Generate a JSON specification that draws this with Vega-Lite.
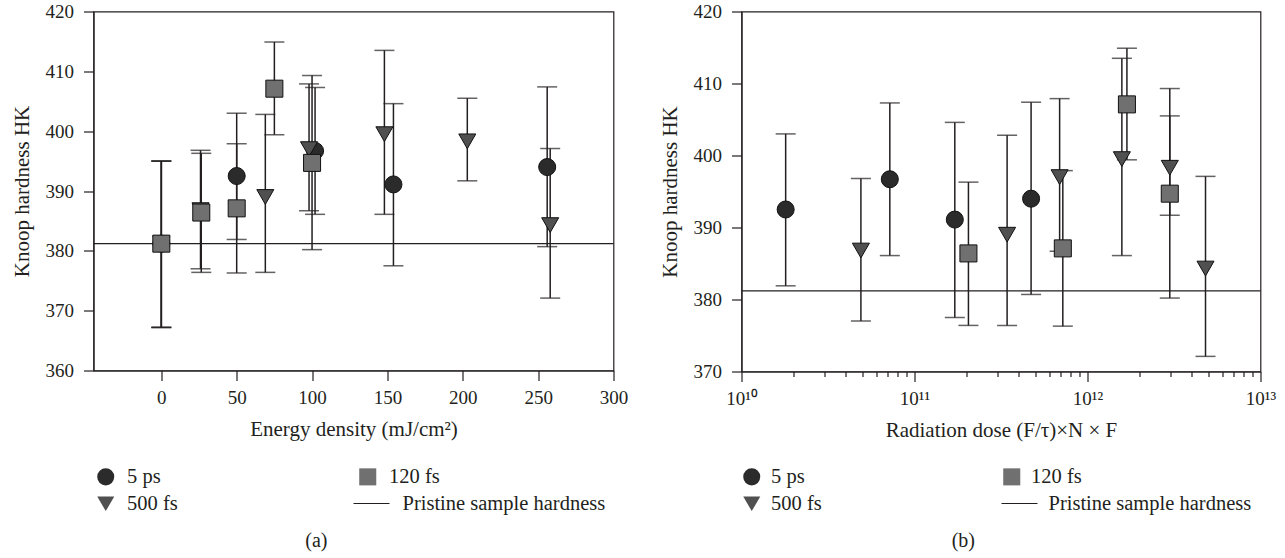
{
  "$schema": "https://vega.github.io/schema/vega-lite/v6.json",
  "background": "white",
  "padding": {"left": 9.5, "top": 1.5, "right": 5, "bottom": 0},
  "spacing": 29,
  "resolve": {
    "scale": {"shape": "independent", "fill": "independent", "stroke": "independent"},
    "legend": {"shape": "independent", "fill": "independent", "stroke": "independent"}
  },
  "config": {
    "font": "Liberation Serif",
    "view": {"stroke": "#231f20", "strokeWidth": 1.2},
    "axis": {
      "grid": false,
      "labelFlush": false,
      "domainColor": "#231f20",
      "domainWidth": 1.2,
      "tickColor": "#231f20",
      "tickWidth": 1.2,
      "tickSize": 10,
      "labelFont": "Liberation Serif",
      "labelFontSize": 19,
      "labelColor": "#231f20",
      "labelPadding": 8,
      "titleFont": "Liberation Serif",
      "titleFontSize": 21,
      "titleFontWeight": "normal",
      "titleColor": "#231f20"
    },
    "legend": {
      "labelFont": "Liberation Serif",
      "labelFontSize": 20.5,
      "labelColor": "#231f20",
      "labelLimit": 0,
      "padding": 0
    },
    "title": {"font": "Liberation Serif", "fontSize": 20, "fontWeight": "normal", "color": "#231f20"}
  },
  "datasets": {
    "pts": [
      {"series": "5 ps", "energy": 0, "dose": null, "hk": 381.2, "lo": 367.2, "hi": 395.0},
      {"series": "5 ps", "energy": 50, "dose": 1.8e10, "hk": 392.5, "lo": 381.9, "hi": 403.0},
      {"series": "5 ps", "energy": 102, "dose": 7.2e10, "hk": 396.7, "lo": 386.1, "hi": 407.3},
      {"series": "5 ps", "energy": 154, "dose": 1.71e11, "hk": 391.1, "lo": 377.5, "hi": 404.6},
      {"series": "5 ps", "energy": 256, "dose": 4.72e11, "hk": 394.0, "lo": 380.7, "hi": 407.4},
      {"series": "500 fs", "energy": 0, "dose": null, "hk": 381.2, "lo": 367.2, "hi": 395.0},
      {"series": "500 fs", "energy": 26, "dose": 4.9e10, "hk": 386.8, "lo": 377.0, "hi": 396.8},
      {"series": "500 fs", "energy": 69, "dose": 3.43e11, "hk": 389.0, "lo": 376.4, "hi": 402.8},
      {"series": "500 fs", "energy": 98, "dose": 6.9e11, "hk": 397.0, "lo": 386.7, "hi": 407.9},
      {"series": "500 fs", "energy": 148, "dose": 1.58e12, "hk": 399.5, "lo": 386.1, "hi": 413.5},
      {"series": "500 fs", "energy": 203, "dose": 2.99e12, "hk": 398.3, "lo": 391.7, "hi": 405.5},
      {"series": "500 fs", "energy": 258, "dose": 4.81e12, "hk": 384.3, "lo": 372.1, "hi": 397.1},
      {"series": "120 fs", "energy": 0, "dose": null, "hk": 381.2, "lo": 367.2, "hi": 395.0},
      {"series": "120 fs", "energy": 26.5, "dose": 2.05e11, "hk": 386.4, "lo": 376.4, "hi": 396.3},
      {"series": "120 fs", "energy": 50, "dose": 7.2e11, "hk": 387.1, "lo": 376.3, "hi": 397.9},
      {"series": "120 fs", "energy": 75, "dose": 1.69e12, "hk": 407.1, "lo": 399.4, "hi": 414.9},
      {"series": "120 fs", "energy": 100, "dose": 2.99e12, "hk": 394.7, "lo": 380.2, "hi": 409.3}
    ],
    "base": [{"hk": 381.2, "label": "Pristine sample hardness"}]
  },
  "hconcat": [
    {
      "width": 520,
      "height": 359,
      "title": {"text": "(a)", "orient": "bottom", "anchor": "middle", "frame": "bounds", "offset": 16, "dx": -3},
      "layer": [
        {
          "data": {"name": "base"},
          "mark": {"type": "rule", "strokeWidth": 1.2},
          "encoding": {
            "y": {"field": "hk", "type": "quantitative", "scale": {"domain": [360, 420]}},
            "stroke": {"field": "label", "type": "nominal", "scale": {"range": ["#231f20"]},
              "legend": {"orient": "none", "legendX": 259, "legendY": 473, "title": null, "symbolType": "stroke", "symbolSize": 1296, "symbolStrokeWidth": 1.2, "labelOffset": 12}}
          }
        },
        {
          "data": {"name": "pts"},
          "layer": [
            {
              "mark": {"type": "rule", "color": "#231f20", "strokeWidth": 1.5},
              "encoding": {
                "x": {"field": "energy", "type": "quantitative"},
                "y": {"field": "lo", "type": "quantitative"},
                "y2": {"field": "hi"}
              }
            },
            {
              "mark": {"type": "tick", "orient": "horizontal", "color": "#231f20", "size": 20, "thickness": 1.5},
              "encoding": {
                "x": {"field": "energy", "type": "quantitative"},
                "y": {"field": "lo", "type": "quantitative"}
              }
            },
            {
              "mark": {"type": "tick", "orient": "horizontal", "color": "#231f20", "size": 20, "thickness": 1.5},
              "encoding": {
                "x": {"field": "energy", "type": "quantitative"},
                "y": {"field": "hi", "type": "quantitative"}
              }
            },
            {
              "mark": {"type": "point", "filled": true, "opacity": 1, "size": 290, "stroke": "#111", "strokeWidth": 1},
              "encoding": {
                "x": {"field": "energy", "type": "quantitative", "title": "Energy density (mJ/cm²)",
                  "scale": {"domain": [-45, 300], "nice": false, "zero": false},
                  "axis": {"values": [0, 50, 100, 150, 200, 250, 300], "titlePadding": 11}},
                "y": {"field": "hk", "type": "quantitative", "title": "Knoop hardness HK",
                  "axis": {"values": [360, 370, 380, 390, 400, 410, 420], "labelPadding": 10, "titlePadding": 13}},
                "shape": {"field": "series", "type": "nominal",
                  "scale": {"domain": ["5 ps", "500 fs", "120 fs"], "range": ["circle", "triangle-down", "square"]},
                  "legend": {"orient": "none", "legendX": 2, "legendY": 455, "columns": 2, "title": null, "gridAlign": "all", "columnPadding": 178, "rowPadding": 6, "labelOffset": 11, "symbolSize": 290, "symbolStrokeColor": "#111", "symbolStrokeWidth": 1}},
                "fill": {"field": "series", "type": "nominal",
                  "scale": {"domain": ["5 ps", "500 fs", "120 fs"], "range": ["#2b2b2b", "#505050", "#707070"]},
                  "legend": {"orient": "none", "legendX": 2, "legendY": 455, "columns": 2, "title": null, "gridAlign": "all", "columnPadding": 178, "rowPadding": 6, "labelOffset": 11, "symbolSize": 290, "symbolStrokeColor": "#111", "symbolStrokeWidth": 1}}
              }
            }
          ]
        }
      ]
    },
    {
      "width": 519,
      "height": 360,
      "title": {"text": "(b)", "orient": "bottom", "anchor": "middle", "frame": "bounds", "offset": 16, "dx": -4},
      "layer": [
        {
          "data": {"name": "base"},
          "mark": {"type": "rule", "strokeWidth": 1.2},
          "encoding": {
            "y": {"field": "hk", "type": "quantitative", "scale": {"domain": [370, 420]}},
            "stroke": {"field": "label", "type": "nominal", "scale": {"range": ["#231f20"]},
              "legend": {"orient": "none", "legendX": 259, "legendY": 473, "title": null, "symbolType": "stroke", "symbolSize": 1296, "symbolStrokeWidth": 1.2, "labelOffset": 10}}
          }
        },
        {
          "data": {"name": "pts"},
          "transform": [{"filter": "datum.dose != null"}],
          "layer": [
            {
              "mark": {"type": "rule", "color": "#231f20", "strokeWidth": 1.5},
              "encoding": {
                "x": {"field": "dose", "type": "quantitative"},
                "y": {"field": "lo", "type": "quantitative"},
                "y2": {"field": "hi"}
              }
            },
            {
              "mark": {"type": "tick", "orient": "horizontal", "color": "#231f20", "size": 20, "thickness": 1.5},
              "encoding": {
                "x": {"field": "dose", "type": "quantitative"},
                "y": {"field": "lo", "type": "quantitative"}
              }
            },
            {
              "mark": {"type": "tick", "orient": "horizontal", "color": "#231f20", "size": 20, "thickness": 1.5},
              "encoding": {
                "x": {"field": "dose", "type": "quantitative"},
                "y": {"field": "hi", "type": "quantitative"}
              }
            },
            {
              "mark": {"type": "point", "filled": true, "opacity": 1, "size": 290, "stroke": "#111", "strokeWidth": 1},
              "encoding": {
                "x": {"field": "dose", "type": "quantitative", "title": "Radiation dose (F/τ)×N × F",
                  "scale": {"type": "log", "domain": [1e10, 1e13], "nice": false},
                  "axis": {
                    "values": [1e10, 2e10, 3e10, 4e10, 5e10, 6e10, 7e10, 8e10, 9e10, 1e11, 2e11, 3e11, 4e11, 5e11, 6e11, 7e11, 8e11, 9e11, 1e12, 2e12, 3e12, 4e12, 5e12, 6e12, 7e12, 8e12, 9e12, 1e13],
                    "labelExpr": "datum.value == 1e10 ? '10¹⁰' : datum.value == 1e11 ? '10¹¹' : datum.value == 1e12 ? '10¹²' : datum.value == 1e13 ? '10¹³' : ''",
                    "tickSize": {"condition": {"test": "datum.value == 1e10 || datum.value == 1e11 || datum.value == 1e12 || datum.value == 1e13", "value": 10}, "value": 5},
                    "labelPadding": 8,
                    "titlePadding": 11
                  }},
                "y": {"field": "hk", "type": "quantitative", "title": "Knoop hardness HK",
                  "axis": {"values": [370, 380, 390, 400, 410, 420], "labelPadding": 10, "titlePadding": 13}},
                "shape": {"field": "series", "type": "nominal",
                  "scale": {"domain": ["5 ps", "500 fs", "120 fs"], "range": ["circle", "triangle-down", "square"]},
                  "legend": {"orient": "none", "legendX": 0, "legendY": 455, "columns": 2, "title": null, "gridAlign": "all", "columnPadding": 178, "rowPadding": 6, "labelOffset": 9, "symbolSize": 290, "symbolStrokeColor": "#111", "symbolStrokeWidth": 1}},
                "fill": {"field": "series", "type": "nominal",
                  "scale": {"domain": ["5 ps", "500 fs", "120 fs"], "range": ["#2b2b2b", "#505050", "#707070"]},
                  "legend": {"orient": "none", "legendX": 0, "legendY": 455, "columns": 2, "title": null, "gridAlign": "all", "columnPadding": 178, "rowPadding": 6, "labelOffset": 9, "symbolSize": 290, "symbolStrokeColor": "#111", "symbolStrokeWidth": 1}}
              }
            }
          ]
        }
      ]
    }
  ]
}
